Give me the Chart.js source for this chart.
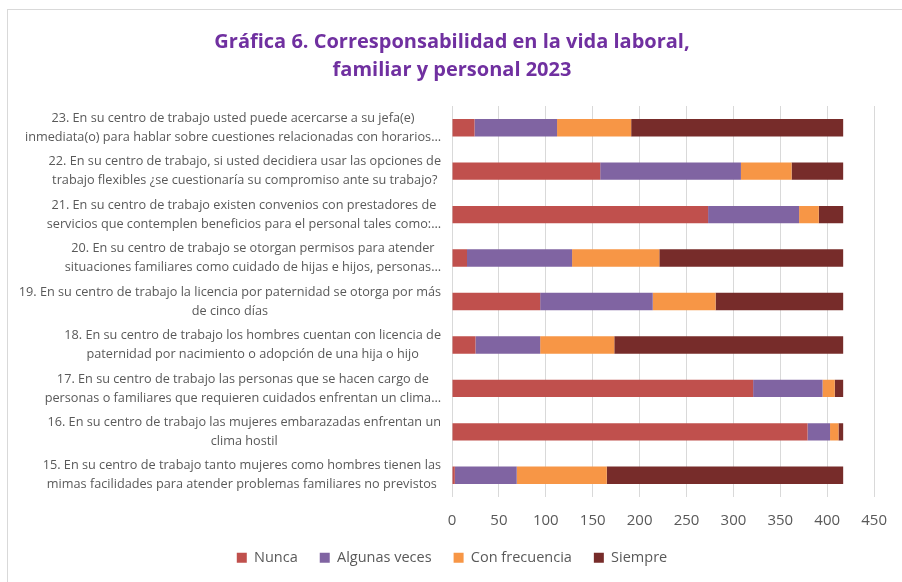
<!DOCTYPE html>
<html>
<head>
<meta charset="utf-8">
<script src="https://cdn.jsdelivr.net/npm/chart.js@4"></script>
<style>
  body { margin: 0; background: #fff; }
  #wrap { position: relative; width: 902px; height: 582px; overflow: hidden; }
  #frame { position: absolute; left: 7px; top: 9px; width: 910px; height: 600px; border: 1px solid #d9d9d9; }
  canvas { position: absolute; left: 0; top: 0; }
</style>
</head>
<body>
<div id="wrap">
  <div id="frame"></div>
  <canvas id="corresp-chart" width="902" height="582"></canvas>
</div>
<script>
// Preguntas (de arriba a abajo)
const preguntas = [
  ["23. En su centro de trabajo usted puede acercarse a su jefa(e)", "inmediata(o) para hablar sobre cuestiones relacionadas con horarios…"],
  ["22. En su centro de trabajo, si usted decidiera usar las opciones de", "trabajo flexibles ¿se cuestionaría su compromiso ante su trabajo?"],
  ["21. En su centro de trabajo existen convenios con prestadores de", "servicios que contemplen beneficios para el personal tales como:…"],
  ["20. En su centro de trabajo se otorgan permisos para atender", "situaciones familiares como cuidado de hijas e hijos, personas…"],
  ["19. En su centro de trabajo la licencia por paternidad se otorga por más", "de cinco días"],
  ["18. En su centro de trabajo los hombres cuentan con licencia de", "paternidad por nacimiento o adopción de una hija o hijo"],
  ["17. En su centro de trabajo las personas que se hacen cargo de", "personas o familiares que requieren cuidados enfrentan un clima…"],
  ["16. En su centro de trabajo las mujeres embarazadas enfrentan un", "clima hostil"],
  ["15. En su centro de trabajo tanto mujeres como hombres tienen las", "mimas facilidades para atender problemas familiares no previstos"],
];

const nunca = [24, 158, 273, 16, 94, 25, 321, 379, 3];
const algunasVeces = [88, 150, 97, 112, 120, 69, 74, 24, 66];
const conFrecuencia = [79, 54, 21, 93, 67, 79, 13, 9, 96];
const siempre = [226, 55, 26, 196, 136, 244, 9, 5, 252];

const xMax = 450;
const xStep = 50;

const gris = "#595959";

// etiquetas del eje Y: bloque alineado a la derecha, líneas centradas
const preguntasPlugin = {
  id: "preguntas",
  afterDraw(chart) {
    const { ctx, chartArea } = chart;
    const yScale = chart.scales.y;
    ctx.save();
    ctx.font = "12.7px 'Open Sans'";
    ctx.fillStyle = gris;
    ctx.textAlign = "center";
    ctx.textBaseline = "middle";
    const lineH = 19;
    preguntas.forEach((lines, i) => {
      const y = yScale.getPixelForTick(i);
      const widest = Math.max(...lines.map((l) => ctx.measureText(l).width));
      const cx = chartArea.left - 11 - widest / 2;
      lines.forEach((l, j) => {
        ctx.fillText(l, cx, y + (j - (lines.length - 1) / 2) * lineH);
      });
    });
    ctx.restore();
  },
};

const ctx = document.getElementById("corresp-chart").getContext("2d");
new Chart(ctx, {
  type: "bar",
  data: {
    labels: preguntas,
    datasets: [
      { label: "Nunca", data: nunca, backgroundColor: "#C0504D" },
      { label: "Algunas veces", data: algunasVeces, backgroundColor: "#8064A2" },
      { label: "Con frecuencia", data: conFrecuencia, backgroundColor: "#F79646" },
      { label: "Siempre", data: siempre, backgroundColor: "#772C2A" },
    ],
  },
  options: {
    indexAxis: "y",
    responsive: false,
    animation: false,
    layout: { padding: { left: 27, right: 25, bottom: 7 } },
    datasets: {
      bar: { categoryPercentage: 0.8, barPercentage: 0.5, borderWidth: 0 },
    },
    scales: {
      x: {
        stacked: true,
        min: 0,
        max: xMax,
        ticks: { stepSize: xStep, color: gris, font: { family: "'Open Sans'", size: 15 }, padding: 15 },
        grid: { color: "#d9d9d9", drawTicks: false },
        border: { display: false },
        afterFit(scale) {
          scale.height = 31.5;
        },
      },
      y: {
        stacked: true,
        ticks: { display: false },
        grid: { display: false },
        border: { display: false },
        afterFit(scale) {
          scale.width = 425;
        },
      },
    },
    plugins: {
      title: {
        display: true,
        text: ["Gráfica 6. Corresponsabilidad en la vida laboral,", "familiar y personal 2023"],
        color: "#7030A0",
        font: { family: "'Open Sans'", size: 20, weight: "bold", lineHeight: 1.4 },
        padding: { top: 28, bottom: 22 },
      },
      legend: {
        position: "bottom",
        labels: {
          boxWidth: 10,
          boxHeight: 10,
          padding: 22,
          color: gris,
          font: { family: "'Open Sans'", size: 14.5 },
        },
      },
      tooltip: { enabled: false },
    },
  },
  plugins: [preguntasPlugin],
});
</script>
</body>
</html>
